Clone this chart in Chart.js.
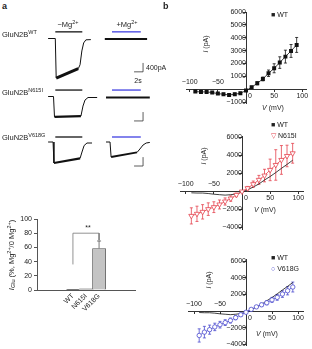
<!DOCTYPE html>
<html lang="en">
<head>
<meta charset="UTF-8" />
<title>GluN2B Mg2+ block</title>
<script src="https://cdn.jsdelivr.net/npm/chart.js"></script>
<style>
  html, body { margin:0; padding:0; background:#fff; }
  body { width:312px; height:349px; position:relative; overflow:hidden;
         font-family:"Liberation Sans", Arial, sans-serif; color:#222; }
  canvas { position:absolute; }
  .t { position:absolute; font-size:7px; line-height:1; white-space:nowrap; }
  .a { font-size:7.5px; }
  .c { transform:translate(-50%,-50%); }
  .r { transform:translate(-50%,-50%) rotate(-90deg); }
  .t sup { font-size:5px; vertical-align:3px; }
  .t sub { font-size:5px; vertical-align:-1px; }
  .a sup, .a sub { font-size:5.5px; }
  .p { font-weight:bold; font-size:9px; }
</style>
</head>
<body>
  <!-- panel a: traces -->
  <canvas id="rowWT" width="120" height="60" style="left:40px;top:25px"></canvas>
  <canvas id="rowN615I" width="120" height="42" style="left:40px;top:86px"></canvas>
  <canvas id="rowV618G" width="120" height="42" style="left:40px;top:129px"></canvas>
  <!-- panel a: block summary -->
  <canvas id="blockChart" width="150" height="149" style="left:0;top:200px"></canvas>
  <!-- panel b: I-V curves -->
  <canvas id="ivWT" width="152" height="118" style="left:160px;top:0"></canvas>
  <canvas id="ivN615I" width="152" height="118" style="left:160px;top:118px"></canvas>
  <canvas id="ivV618G" width="152" height="116" style="left:160px;top:236px"></canvas>

  <div class="t p" style="left:2px;top:2px">a</div>
  <div class="t p" style="left:163px;top:2px">b</div>

  <div class="t a" style="left:2px;top:30px">GluN2B<sup>WT</sup></div>
  <div class="t a" style="left:2px;top:88px">GluN2B<sup>N615I</sup></div>
  <div class="t a" style="left:2px;top:133px">GluN2B<sup>V618G</sup></div>
  <div class="t a c" style="left:68px;top:24px">−Mg<sup>2+</sup></div>
  <div class="t a c" style="left:127px;top:24px">+Mg<sup>2+</sup></div>
  <div class="t" style="left:146px;top:64px">400pA</div>
  <div class="t c" style="left:138px;top:80px">2s</div>

  <div class="t c" style="left:88px;top:227px">**</div>
  <div class="t a r" style="left:12px;top:255px"><i>I</i><sub>Glu</sub> (%, Mg<sup>2+</sup>/0 Mg<sup>2+</sup>)</div>

  <div class="t" style="left:271px;top:11px">■ WT</div>
  <div class="t r" style="left:205px;top:44px"><i>I</i> (pA)</div>
  <div class="t c" style="left:273px;top:107px"><i>V</i> (mV)</div>

  <div class="t" style="left:271px;top:121px">■ WT</div>
  <div class="t" style="left:271px;top:132px"><span style="color:#e4424e">▽</span> N615I</div>
  <div class="t r" style="left:203px;top:156px"><i>I</i> (pA)</div>
  <div class="t c" style="left:265px;top:209px"><i>V</i> (mV)</div>

  <div class="t" style="left:271px;top:254px">■ WT</div>
  <div class="t" style="left:271px;top:265px"><span style="color:#4b4bcf">○</span> V618G</div>
  <div class="t r" style="left:208px;top:280px"><i>I</i> (pA)</div>
  <div class="t c" style="left:267px;top:333px"><i>V</i> (mV)</div>

<script>
// ---- panel a, example currents (time in s, current in pA) ----
const wtMinusT = [-0.2, 1.4, 1.6, 6.5, 6.9, 7.3, 7.7, 8.2, 9.3];
const wtMinusI = [0, 0, -1780, -1360, -1180, -560, -200, -60, -50];
const wtPlusT = [12.4, 21.8];
const wtPlusI = [-20, -20];
const n615iMinusT = [-0.2, 1.0, 1.22, 7.1, 7.55, 8.0, 8.67, 10.7];
const n615iMinusI = [0, 0, -920, -880, -430, -160, -45, -45];
const n615iPlusT = [12.67, 22.4];
const n615iPlusI = [-45, -45];
const v618gMinusT = [-0.2, 0.9, 1.1, 6.9, 7.33, 7.8, 8.44, 9.56];
const v618gMinusI = [0, 0, -945, -740, -450, -160, -45, -45];
const v618gPlusT = [12.67, 13.56, 13.8, 19.56, 20.2, 20.9, 21.6, 22.4];
const v618gPlusI = [0, 0, -675, -470, -315, -135, -45, -20];
const applyMinusMg = [1.4, 7.4];   // s
const applyPlusMg = [14.0, 20.4];  // s
const scaleBarSec = 2;
const scaleBarPA = 400;

// ---- panel a, block summary ----
const mutants = ['WT', 'N615I', 'V618G'];
const gluBlockPct = [1.0, 1.5, 58.5];
const gluBlockErr = [0, 0, 10.5];
const bracketX = [0, 0, 2, 2];
const bracketY = [36, 80, 80, 70];
const blockTicks = [0, 20, 40, 60, 80, 100];

// ---- panel b, I-V relations ----
const voltages = [-90, -80, -70, -60, -50, -40, -30, -20, -10, 0, 10, 20, 30, 40, 50, 60, 70, 80, 90];
const wtCurrent = [-181, -207, -207, -260, -337, -389, -440, -389, -311, -104, 155, 466, 803, 1244, 1632, 2073, 2539, 2979, 3446];
const wtErr = [60, 60, 60, 70, 70, 80, 90, 90, 80, 60, 80, 120, 150, 250, 350, 450, 500, 500, 580];
const n615iCurrent = [-2750, -2520, -2300, -2000, -1780, -1480, -1150, -820, -410, -40, 330, 780, 1260, 1740, 2370, 2920, 3480, 3920, 4220];
const n615iErr = [900, 850, 800, 700, 600, 500, 400, 300, 200, 100, 200, 350, 500, 700, 1200, 1700, 1600, 1200, 1100];
const v618gCurrent = [-2950, -2550, -2250, -1920, -1650, -1400, -1150, -800, -450, -150, 200, 500, 750, 1000, 1350, 1650, 2050, 2450, 2900];
const v618gErr = [800, 700, 550, 450, 400, 350, 300, 250, 200, 100, 100, 150, 200, 250, 300, 350, 400, 500, 600];
const voltTicks = [-100, -50, 0, 50, 100];
const wtCurrentTicks = [-1000, 0, 1000, 2000, 3000, 4000, 5000, 6000];
const mutCurrentTicks = [-4000, -2000, 0, 2000, 4000, 6000];

const RED = '#e4424e';
const BLUE = '#4b4bcf';
const INK = '#222';

Chart.defaults.font.family = '"Liberation Sans", Arial, sans-serif';
Chart.defaults.font.size = 7;
Chart.defaults.color = INK;
Chart.defaults.animation = false;
Chart.defaults.plugins.legend.display = false;
Chart.defaults.plugins.tooltip.enabled = false;

// vertical error bars, read from dataset.errorBars
const errorBars = {
  id: 'errorBars',
  beforeDatasetsDraw(chart) {
    const ctx = chart.ctx;
    chart.data.datasets.forEach((ds, i) => {
      if (!ds.errorBars) return;
      const meta = chart.getDatasetMeta(i);
      const ys = chart.scales[meta.yAxisID];
      ctx.save();
      ctx.strokeStyle = ds.errorColor || ds.borderColor;
      ctx.lineWidth = 0.8;
      meta.data.forEach((el, j) => {
        const e = ds.errorBars[j];
        if (!e) return;
        const y = meta.controller.getParsed(j).y;
        const top = ys.getPixelForValue(y + e);
        const bot = ys.getPixelForValue(ds.errorUpOnly ? y : y - e);
        const x = el.x, cap = ds.capWidth || 1.5;
        ctx.beginPath();
        ctx.moveTo(x, top); ctx.lineTo(x, bot);
        ctx.moveTo(x - cap, top); ctx.lineTo(x + cap, top);
        if (!ds.errorUpOnly) { ctx.moveTo(x - cap, bot); ctx.lineTo(x + cap, bot); }
        ctx.stroke();
      });
      ctx.restore();
    });
  }
};
Chart.register(errorBars);

const pts = (xs, ys) => xs.map((x, i) => ({ x, y: ys[i] }));
const fixTicks = list => s => { s.ticks = list.map(v => ({ value: v })); };

// trace rows: 4.5 px per s, 45 pA per px; t = 0 sits at page x 49
const PX_PER_S = 4.5, PA_PER_PX = 45, T0_PX = 49;

function traceRow(id, left, top, w, h, baseline, row) {
  const datasets = row.traces.map(tr => ({
    data: pts(tr.t, tr.i),
    borderColor: '#111', borderWidth: 1, pointRadius: 0, tension: 0, clip: false,
    segment: {
      borderWidth: c => (c.p0.parsed.x >= tr.noise[0] - 1e-6 && c.p1.parsed.x <= tr.noise[1] + 1e-6) ? tr.noiseW : 1
    }
  }));
  datasets.push({
    data: pts(applyMinusMg, [row.level, row.level]),
    borderColor: '#333', borderWidth: 1.5, pointRadius: 0, clip: false
  });
  datasets.push({
    data: pts(applyPlusMg, [row.level, row.level]),
    borderColor: '#5a5ae6', borderWidth: 1.5, pointRadius: 0, clip: false
  });
  const sx = row.scaleAt[0], sy = row.scaleAt[1];
  datasets.push({
    data: pts([sx - scaleBarSec, sx, sx], [sy, sy, sy + scaleBarPA]),
    borderColor: '#333', borderWidth: 0.8, pointRadius: 0, clip: false
  });
  new Chart(document.getElementById(id), {
    type: 'line',
    data: { datasets },
    options: {
      responsive: false,
      layout: { padding: 0, autoPadding: false },
      scales: {
        x: { type: 'linear', display: false,
             min: (left - T0_PX) / PX_PER_S, max: (left + w - T0_PX) / PX_PER_S },
        y: { type: 'linear', display: false,
             min: -(top + h - baseline) * PA_PER_PX, max: (baseline - top) * PA_PER_PX }
      }
    }
  });
}

traceRow('rowWT', 40, 25, 120, 60, 38.5, {
  traces: [
    { t: wtMinusT, i: wtMinusI, noise: [1.6, 6.5], noiseW: 3 },
    { t: wtPlusT, i: wtPlusI, noise: [12.4, 21.8], noiseW: 2 }
  ],
  level: 300, scaleAt: [20.9, -1500]
});
traceRow('rowN615I', 40, 86, 120, 42, 96.5, {
  traces: [
    { t: n615iMinusT, i: n615iMinusI, noise: [1.22, 7.1], noiseW: 2.2 },
    { t: n615iPlusT, i: n615iPlusI, noise: [12.67, 22.4], noiseW: 1.8 }
  ],
  level: 290, scaleAt: [20.9, -1100]
});
traceRow('rowV618G', 40, 129, 120, 42, 142, {
  traces: [
    { t: v618gMinusT, i: v618gMinusI, noise: [1.1, 6.9], noiseW: 2.2 },
    { t: v618gPlusT, i: v618gPlusI, noise: [13.8, 19.56], noiseW: 1.8 }
  ],
  level: 225, scaleAt: [20.9, -1080]
});

// block summary bar chart
new Chart(document.getElementById('blockChart'), {
  type: 'bar',
  data: {
    datasets: [{
      data: pts([0, 1, 2], gluBlockPct),
      backgroundColor: ['#111', '#b8b8b8', '#c4c4c4'],
      borderColor: '#444', borderWidth: 0.7,
      barPercentage: 1, categoryPercentage: 1,
      errorBars: gluBlockErr, errorUpOnly: true, errorColor: '#555', capWidth: 2
    }, {
      type: 'line',
      data: pts(bracketX, bracketY),
      borderColor: '#777', borderWidth: 0.8, pointRadius: 0, tension: 0
    }]
  },
  options: {
    responsive: false,
    layout: { padding: { top: 19, right: 15, left: 0, bottom: 0 }, autoPadding: false },
    scales: {
      x: {
        type: 'linear', min: -1.5, max: 3.5,
        afterBuildTicks: fixTicks([0, 1, 2]),
        afterFit: s => { s.height = 59; },
        ticks: { callback: v => mutants[v], minRotation: 45, maxRotation: 45, autoSkip: false, padding: 2 },
        grid: { display: false, drawTicks: false },
        border: { color: '#555' }
      },
      y: {
        min: 0, max: 100,
        afterBuildTicks: fixTicks(blockTicks),
        afterFit: s => { s.width = 37; },
        ticks: { padding: 2 },
        grid: { drawOnChartArea: false, tickLength: 3, color: '#555' },
        border: { color: '#555' }
      }
    }
  }
});

// I-V charts with axes crossing at the origin
const minus = v => (v < 0 ? '−' + Math.abs(v) : String(v));

function ivChart(id, datasets, xr, yr, yTicks, pad) {
  new Chart(document.getElementById(id), {
    type: 'line',
    data: { datasets },
    options: {
      responsive: false,
      layout: { padding: pad, autoPadding: false },
      scales: {
        x: {
          type: 'linear', min: xr[0], max: xr[1], position: { y: 0 },
          afterBuildTicks: fixTicks(voltTicks),
          ticks: { autoSkip: false, maxRotation: 0, padding: 1,
                   callback: v => (v > 0 ? String(v) : v === 0 ? '    0' : '') },
          grid: { drawOnChartArea: false, tickLength: 2, color: '#333' },
          border: { color: '#333' }
        },
        xNeg: {
          type: 'linear', min: xr[0], max: xr[1], position: { y: 0 },
          afterBuildTicks: fixTicks(voltTicks),
          ticks: { autoSkip: false, maxRotation: 0, padding: -11,
                   callback: v => (v < 0 ? minus(v) : '') },
          grid: { display: false, drawTicks: false },
          border: { display: false }
        },
        y: {
          type: 'linear', min: yr[0], max: yr[1], position: { x: 0 },
          afterBuildTicks: fixTicks(yTicks),
          ticks: { autoSkip: false, padding: 2,
                   callback: v => (v === 0 ? '' : minus(v)) },
          grid: { drawOnChartArea: false, tickLength: 3, color: '#333' },
          border: { color: '#333' }
        }
      }
    }
  });
}

const wtLine = () => ({
  data: pts(voltages, wtCurrent), borderColor: '#111', borderWidth: 0.8,
  pointRadius: 0, tension: 0
});

ivChart('ivWT', [{
  data: pts(voltages, wtCurrent), borderColor: '#111', borderWidth: 0.8, tension: 0,
  pointStyle: 'rect', pointRadius: 2.8, pointBackgroundColor: '#111', pointBorderWidth: 0,
  errorBars: wtErr
}], [-105, 108], [-1100, 6000], wtCurrentTicks, { left: 26.9, right: 5.2, top: 12.1, bottom: 14.6 });

ivChart('ivN615I', [{
  data: pts(voltages, n615iCurrent), borderColor: RED, borderWidth: 0.8, tension: 0,
  pointStyle: 'triangle', rotation: 180, pointRadius: 3, pointBackgroundColor: '#fff',
  pointBorderColor: RED, pointBorderWidth: 0.8, errorBars: n615iErr
}, wtLine()], [-110, 110], [-4300, 6100], mutCurrentTicks, { left: 20.1, right: 8.1, top: 18.4, bottom: 6 });

ivChart('ivV618G', [{
  data: pts(voltages, v618gCurrent), borderColor: BLUE, borderWidth: 0.8, tension: 0,
  pointStyle: 'circle', pointRadius: 2.2, pointBackgroundColor: '#fff',
  pointBorderColor: BLUE, pointBorderWidth: 0.8, errorBars: v618gErr
}, wtLine()], [-110, 110], [-4200, 6200], mutCurrentTicks, { left: 28.8, right: 8.8, top: 23.7, bottom: 2.9 });
</script>
</body>
</html>
